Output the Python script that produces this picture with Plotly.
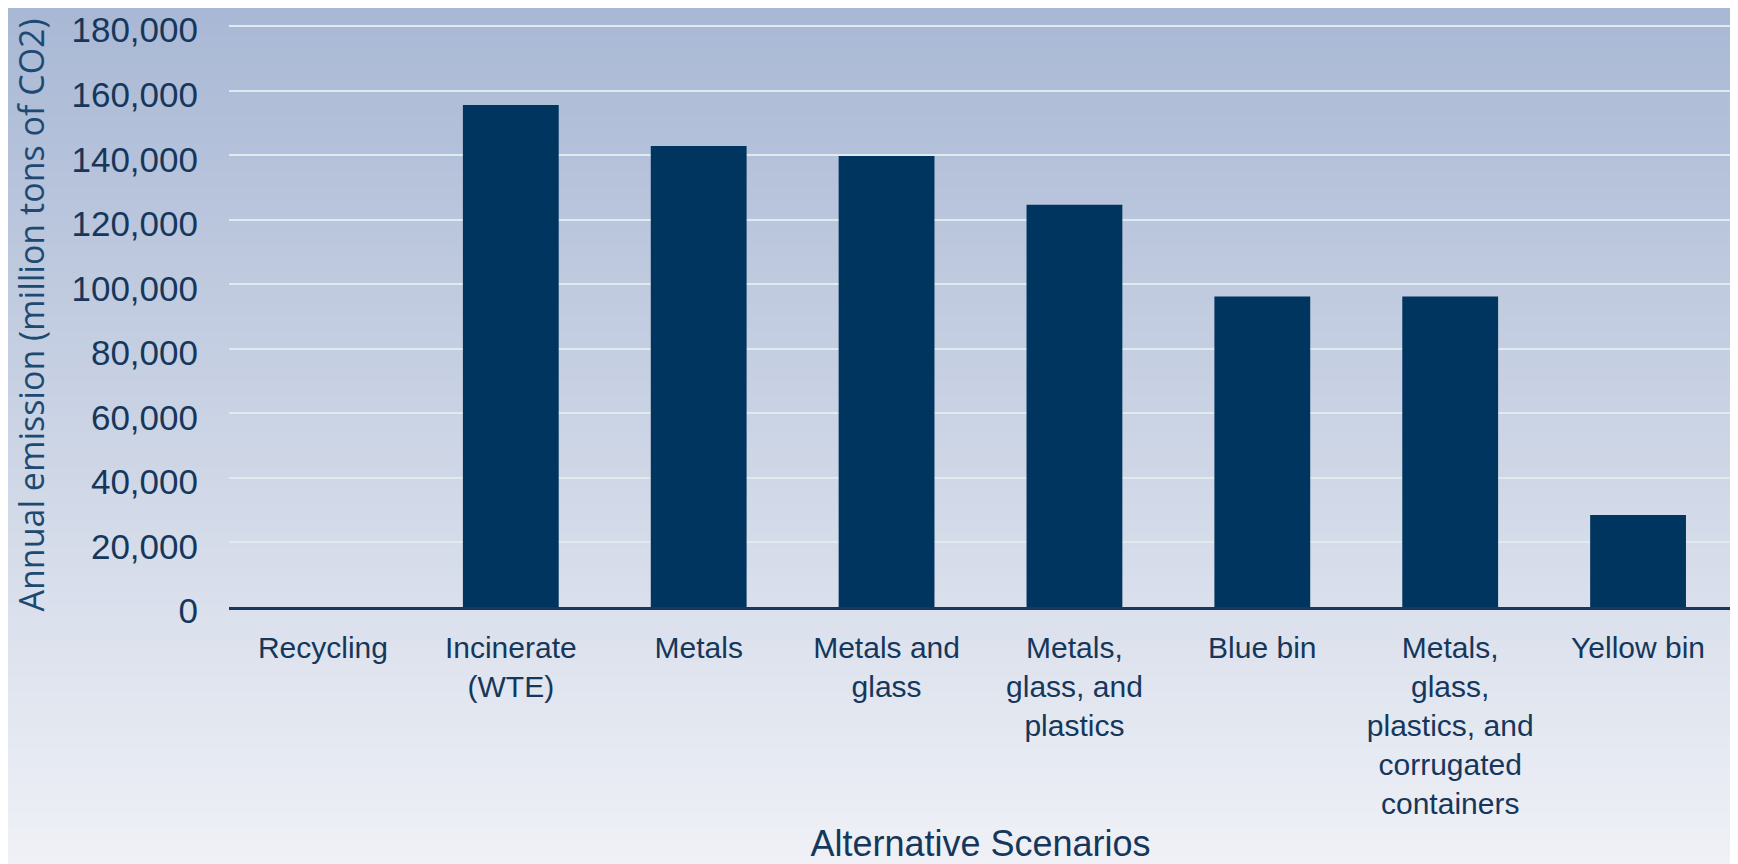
import plotly.graph_objects as go

categories = [
    "Recycling",
    "Incinerate<br>(WTE)",
    "Metals",
    "Metals and<br>glass",
    "Metals,<br>glass, and<br>plastics",
    "Blue bin",
    "Metals,<br>glass,<br>plastics, and<br>corrugated<br>containers",
    "Yellow bin",
]
emissions = [0, 155600, 142900, 139800, 124700, 96200, 96200, 28500]
y_ticks = [0, 20000, 40000, 60000, 80000, 100000, 120000, 140000, 160000, 180000]
y_tick_text = ["0", "20,000", "40,000", "60,000", "80,000", "100,000",
               "120,000", "140,000", "160,000", "180,000"]

# page body adds an 8px offset; size the figure to fit the window
OFF = 8
W, H = 1738 - OFF, 864 - OFF
Y_TOP = 181000
ml, mr, mt, mb = 221, 6, 15.4, 256.6
plot_h = H - mt - mb

navy_text = "#15375c"
bar_color = "#003560"

fig = go.Figure(
    go.Bar(
        x=categories,
        y=emissions,
        marker=dict(color=bar_color, line=dict(width=0)),
    )
)

# vertical background gradient (figure-wide), drawn as thin strips
top_rgb = (168, 183, 212)
bot_rgb = (239, 241, 246)
n = 120
shapes = []
full_h = 864
for i in range(n):
    tc = (i + 0.5) / n
    r = round(top_rgb[0] + (bot_rgb[0] - top_rgb[0]) * tc)
    g = round(top_rgb[1] + (bot_rgb[1] - top_rgb[1]) * tc)
    b = round(top_rgb[2] + (bot_rgb[2] - top_rgb[2]) * tc)
    py0 = full_h * i / n - OFF
    py1 = full_h * (i + 1) / n - OFF + 1
    y0 = (H - mb - py0) / plot_h
    y1 = (H - mb - py1) / plot_h
    shapes.append(dict(
        type="rect", xref="paper", yref="paper",
        x0=-0.5, x1=1.5, y0=y1, y1=y0,
        fillcolor=f"rgb({r},{g},{b})", line=dict(width=0), layer="below",
    ))

fig.update_layout(
    width=W, height=H,
    margin=dict(l=ml, r=mr, t=mt, b=mb, pad=0, autoexpand=False),
    paper_bgcolor="rgb(239,241,246)",
    plot_bgcolor="rgba(0,0,0,0)",
    shapes=shapes,
    bargap=0.49,
    showlegend=False,
    font=dict(family="Liberation Sans, Arial, sans-serif", color=navy_text),
)

fig.update_yaxes(
    automargin=False,
    range=[0, Y_TOP],
    tickvals=y_ticks,
    ticktext=y_tick_text,
    tickfont=dict(size=35, family="Liberation Sans, Arial, sans-serif", color=navy_text),
    ticklabeloverflow="allow",
    ticklabelshift=4,
    showgrid=True,
    gridcolor="rgba(222,236,240,1)",
    gridwidth=1.5,
    zeroline=False,
    showline=False,
    ticks="",
    ticklabelstandoff=30,
    title=dict(
        text="Annual emission (million tons of CO2)",
        font=dict(size=34, family="Open Sans, sans-serif", color="#1d4a72"),
        standoff=21,
    ),
)

fig.update_xaxes(
    automargin=False,
    showline=True,
    linecolor="#17375c",
    linewidth=2.5,
    ticks="",
    tickangle=0,
    tickfont=dict(size=30, family="Liberation Sans, Arial, sans-serif", color=navy_text),
    ticklabelstandoff=12,
    title=dict(
        text="Alternative Scenarios",
        font=dict(size=36, family="Liberation Sans, Arial, sans-serif", color=navy_text),
        standoff=24,
    ),
)

fig.write_html("out.html")
